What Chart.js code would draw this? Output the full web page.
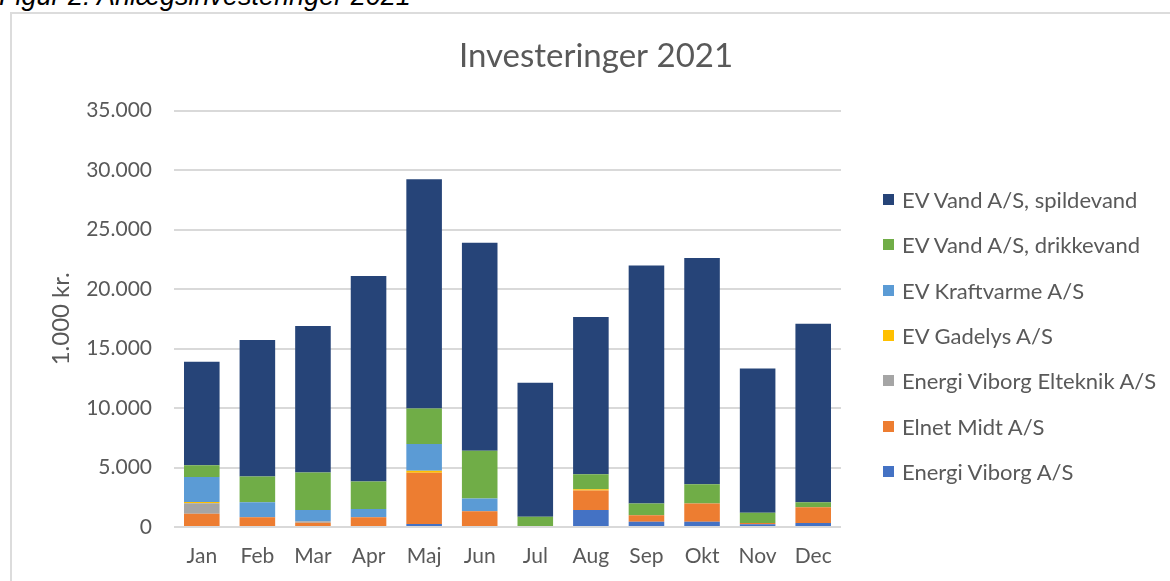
<!DOCTYPE html>
<html lang="da">
<head>
<meta charset="utf-8">
<title>Investeringer 2021</title>
<script src="https://cdn.jsdelivr.net/npm/chart.js@4.4.1/dist/chart.umd.min.js"></script>
<style>
    html, body { margin: 0; padding: 0; background: #fff; overflow: hidden; width: 1170px; height: 581px; }
    .caption { position: absolute; left: -1px; top: -17px; font: italic 27px "Liberation Sans", Arial, sans-serif; line-height: 27px; color: #000; white-space: nowrap; }
    .frame { position: absolute; left: 10px; top: 12px; width: 1200px; height: 620px; border: 2px solid #dcdcdc; }
    #chart { position: absolute; left: 11px; top: 13px; }
    .legend { position: absolute; left: 0; top: 0; font-family: Lato, sans-serif; font-size: 22px; color: #595959; }
    .legend-item { position: absolute; white-space: nowrap; height: 26px; line-height: 26px; }
    .legend-box { position: absolute; left: 0; top: 7px; width: 11px; height: 11px; }
    .legend-text { position: absolute; left: 19px; top: 0; }
</style>
</head>
<body>
<div class="caption">Figur 2: Anlægsinvesteringer 2021</div>
<div class="frame"></div>
<canvas id="chart" width="1170" height="568"></canvas>
<div class="legend" id="legend"></div>
<script>
// måneder
const months = ['Jan', 'Feb', 'Mar', 'Apr', 'Maj', 'Jun', 'Jul', 'Aug', 'Sep', 'Okt', 'Nov', 'Dec'];

// investeringer pr. selskab (1.000 kr.)
const energiViborg = [0, 0, 0, 0, 250, 0, 0, 1430, 450, 450, 225, 340];
const elnetMidt    = [1120, 815, 365, 815, 4300, 1320, 0, 1630, 530, 1520, 110, 1320];
const elteknik     = [870, 0, 110, 0, 0, 0, 0, 0, 0, 0, 0, 0];
const gadelys      = [110, 0, 0, 0, 170, 0, 0, 110, 0, 0, 0, 0];
const kraftvarme   = [2110, 1265, 955, 700, 2250, 1070, 0, 0, 0, 0, 0, 0];
const drikkevand   = [985, 2160, 3150, 2300, 3000, 4010, 870, 1265, 985, 1630, 870, 420];
const spildevand   = [8690, 11470, 12310, 17280, 19250, 17500, 11250, 13210, 20010, 19020, 12120, 15010];

// y-akse
const yTicks = [0, 5000, 10000, 15000, 20000, 25000, 30000, 35000];

const seriesNames = ['Energi Viborg A/S', 'Elnet Midt A/S', 'Energi Viborg Elteknik A/S', 'EV Gadelys A/S',
    'EV Kraftvarme A/S', 'EV Vand A/S, drikkevand', 'EV Vand A/S, spildevand'];
const seriesColors = ['#4472C4', '#ED7D31', '#A5A5A5', '#FFC000', '#5B9BD5', '#70AD47', '#264478'];
const seriesData = [energiViborg, elnetMidt, elteknik, gadelys, kraftvarme, drikkevand, spildevand];

const textColor = '#595959';
const fontFamily = 'Lato, "Open Sans", sans-serif';

// tusindtalsseparator med punktum
function formatNumber(num) {
    return num.toString().replace(/\B(?=(\d{3})+(?!\d))/g, '.');
}

const datasets = seriesNames.map((name, i) => ({
    label: name,
    data: seriesData[i],
    backgroundColor: seriesColors[i],
    borderWidth: 0,
    barPercentage: 0.64,
    categoryPercentage: 1.0
}));

const chart = new Chart(document.getElementById('chart'), {
    type: 'bar',
    data: { labels: months, datasets: datasets },
    options: {
        responsive: false,
        animation: false,
        devicePixelRatio: 1,
        layout: { padding: 0 },
        plugins: {
            legend: { display: false },
            tooltip: { enabled: false },
            title: {
                display: true,
                text: 'Investeringer 2021',
                color: textColor,
                font: { family: fontFamily, size: 33, weight: 'normal' },
                padding: { top: 24, bottom: 34 }
            }
        },
        scales: {
            x: {
                stacked: true,
                grid: { display: false, drawTicks: false },
                border: { display: false },
                ticks: { color: textColor, font: { family: fontFamily, size: 21 }, padding: 17, maxRotation: 0 },
                afterFit: s => { s.height = 54; }
            },
            y: {
                stacked: true,
                min: yTicks[0],
                max: yTicks[yTicks.length - 1],
                afterBuildTicks: axis => { axis.ticks = yTicks.map(v => ({ value: v })); },
                grid: { color: '#d9d9d9', lineWidth: 2, drawTicks: false },
                border: { display: false },
                ticks: {
                    color: textColor,
                    font: { family: fontFamily, size: 21 },
                    padding: 22,
                    callback: v => formatNumber(v)
                },
                title: {
                    display: true,
                    text: '1.000 kr.',
                    color: textColor,
                    font: { family: fontFamily, size: 24 },
                    padding: { top: 36, bottom: 0 }
                },
                afterFit: s => { s.width = 163; }
            },
            // tom akse der giver plads til forklaringen
            yRight: {
                position: 'right',
                display: true,
                grid: { display: false, drawTicks: false },
                border: { display: false },
                ticks: { display: false },
                afterFit: s => { s.width = 340; }
            }
        }
    }
});

// forklaring til højre, øverste serie først
const legendEl = document.getElementById('legend');
const legendLeft = 883;
const legendTop = 200;
const legendStep = 45.3;
seriesNames.slice().reverse().forEach((name, i) => {
    const idx = seriesNames.length - 1 - i;
    const item = document.createElement('div');
    item.className = 'legend-item';
    item.style.left = legendLeft + 'px';
    item.style.top = (legendTop + i * legendStep - 13) + 'px';
    item.innerHTML = '<span class="legend-box" style="background:' + seriesColors[idx] + '"></span>' +
        '<span class="legend-text">' + name + '</span>';
    legendEl.appendChild(item);
});
</script>
</body>
</html>
